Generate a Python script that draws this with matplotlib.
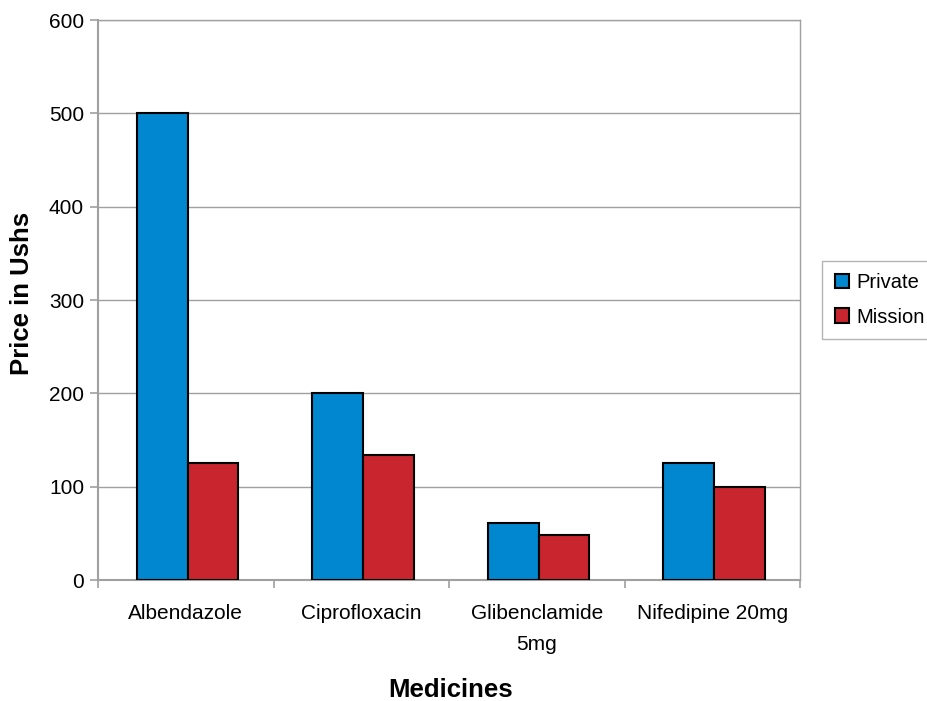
import matplotlib
matplotlib.use('Agg')
import matplotlib.pyplot as plt
import numpy as np

plt.rcParams['font.family'] = ['Liberation Sans', 'DejaVu Sans']

medicines = ['Albendazole', 'Ciprofloxacin', 'Glibenclamide\n5mg', 'Nifedipine 20mg']
private = [500, 200, 61, 125]
mission = [125, 134, 48, 100]
y_ticks = [0, 100, 200, 300, 400, 500, 600]

fig = plt.figure(figsize=(9.28, 7.01), dpi=100)
ax = fig.add_axes([98 / 928, 1 - 580 / 701, 702 / 928, 560 / 701])

x = np.arange(len(medicines))
w = 0.29
ax.bar(x - w / 2 + 0.01, private, w, color='#0087CF', edgecolor='black', lw=1.5, label='Private', zorder=3)
ax.bar(x + w / 2 + 0.01, mission, w, color='#C9252E', edgecolor='black', lw=1.5, label='Mission', zorder=3)

ax.set_xlim(-0.5, len(medicines) - 0.5)
ax.set_ylim(0, 600)
ax.set_yticks(y_ticks)
ax.yaxis.grid(True, color='#a0a0a0', lw=1)
ax.set_axisbelow(True)

# boundary ticks as majors, labels on minors
ax.set_xticks(np.arange(-0.5, len(medicines), 1.0))
ax.set_xticklabels([])
ax.set_xticks(x, minor=True)
ax.set_xticklabels(medicines, minor=True, fontsize=15, linespacing=1.8)
ax.tick_params(axis='x', which='minor', length=0, pad=17)
ax.tick_params(axis='x', which='major', length=6, color='#a0a0a0', width=1.2)
ax.tick_params(axis='y', length=6, color='#a0a0a0', width=1.2, labelsize=15, pad=4)

for s in ['left', 'bottom']:
    ax.spines[s].set_color('#a0a0a0')
    ax.spines[s].set_linewidth(1.5)
for s in ['top', 'right']:
    ax.spines[s].set_color('#a0a0a0')
    ax.spines[s].set_linewidth(1)

fig.text(22 / 928, 1 - 293 / 701, 'Price in Ushs', fontsize=18.5, fontweight='bold',
         rotation=90, ha='center', va='center')
fig.text(451 / 928, 1 - 690 / 701, 'Medicines', fontsize=18.5, fontweight='bold',
         ha='center', va='center')

leg = ax.legend(loc='center left', bbox_to_anchor=(1.032, 0.5), frameon=True, fancybox=False,
                fontsize=14.5, handlelength=0.7, handleheight=0.7, handletextpad=0.4,
                labelspacing=0.75, borderpad=0.6, borderaxespad=0)
leg.get_frame().set_edgecolor('#a0a0a0')
leg.get_frame().set_linewidth(1)

fig.savefig('out.png', dpi=100)
